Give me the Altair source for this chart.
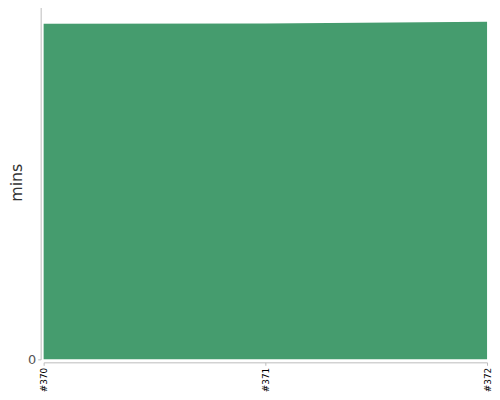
import altair as alt
import pandas as pd

builds = ["#370", "#371", "#372"]
mins = [94.7, 94.8, 95.3]

df = pd.DataFrame({"build": builds, "mins": mins})

chart = alt.Chart(df).mark_area(color="#459c6e", opacity=1).encode(
    x=alt.X("build:N", sort=builds, scale=alt.Scale(padding=0),
            axis=alt.Axis(title=None, labelAngle=-90, labelColor="#000", labelFontSize=9,
                          labelFont="DejaVu Sans", domainColor="#bbb", tickColor="#bbb",
                          tickSize=3, offset=3, labelPadding=2, grid=False)),
    y=alt.Y("mins:Q", scale=alt.Scale(domain=[0, 100], nice=False),
            axis=alt.Axis(title="mins", values=[0], labelColor="#555", labelFontSize=13,
                          labelFont="DejaVu Sans", titleFont="DejaVu Sans", titleFontSize=16,
                          titleFontWeight="normal", titleColor="#333", domainColor="#bbb",
                          tickColor="#bbb", tickSize=3, offset=3, grid=False, titlePadding=3,
                          labelPadding=2)),
).properties(
    width=448, height=358,
    padding={"left": 0, "top": -5, "right": 0, "bottom": 0},
).configure_view(stroke=None)

chart.save("out.html", embed_options={"renderer": "svg", "actions": False})
